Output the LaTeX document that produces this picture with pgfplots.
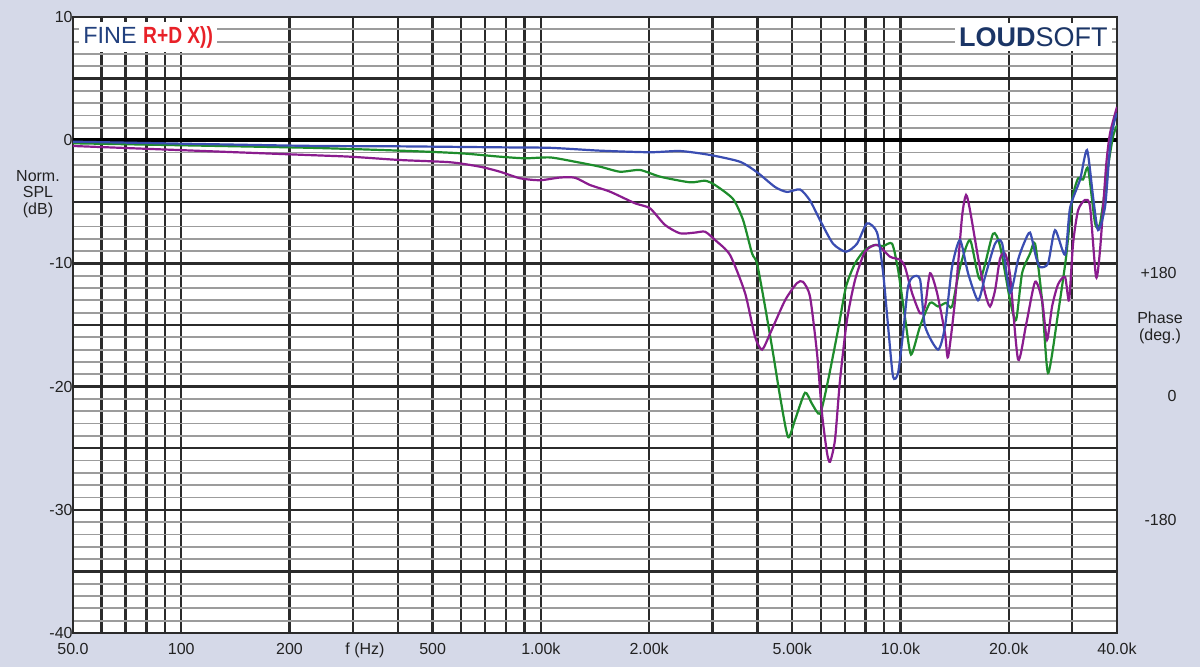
\documentclass[border=0pt]{standalone}
\usepackage{fontspec}
\setmainfont{Liberation Sans}
\usepackage{graphicx}
\usepackage{pgfplots}
\usepackage{pgfplotstable}
\pgfplotsset{compat=1.18}
\definecolor{bgc}{HTML}{D5D9E8}
\definecolor{cblue}{HTML}{3A4DB2}
\definecolor{cgreen}{HTML}{1E8C2C}
\definecolor{cpurple}{HTML}{8A1C8E}
\definecolor{navy}{HTML}{1B3566}
\definecolor{fineblue}{HTML}{22407E}
\definecolor{rdred}{HTML}{E82128}
\definecolor{gridd}{HTML}{2B2B2B}
\definecolor{gridl}{HTML}{9C9C9C}
\definecolor{txt}{HTML}{222222}

\pgfplotstableread{
f dB
50 -0.12
214 -0.45
406 -0.50
770 -0.58
1061 -0.62
1460 -0.85
2011 -0.98
2438 -0.88
2954 -1.2
3578 -1.75
3991 -2.6
4479 -3.8
4836 -4.2
5255 -4.0
5603 -4.9
5975 -6.5
6493 -8.4
7054 -9.05
7570 -8.4
8071 -6.75
8607 -7.5
8943 -10.7
9236 -15.1
9535 -19.2
9844 -18.9
10163 -15.7
10493 -11.9
10837 -11.1
11335 -11.3
11703 -15.1
12720 -17.0
13300 -15.1
13909 -10.3
14639 -8.1
15413 -10.8
16430 -13.0
17181 -11.1
18319 -8.4
19162 -8.35
20171 -12.4
21229 -9.7
22060 -8.35
22923 -7.5
23822 -9.5
24440 -10.3
25722 -10.0
26902 -7.3
28681 -9.3
29613 -5.5
31572 -3.2
33020 -0.8
34317 -4.6
35431 -7.3
37055 -5.4
38256 -0.5
39250 1.4
40000 2.2
}\blue

\pgfplotstableread{
f dB
50 -0.25
214 -0.6
406 -0.85
596 -1.06
770 -1.34
903 -1.47
1061 -1.4
1245 -1.75
1460 -2.15
1660 -2.56
1887 -2.42
2145 -2.96
2598 -3.42
2861 -3.29
3050 -3.64
3422 -4.77
3650 -6.48
3865 -9.18
3991 -10.0
4201 -13.5
4422 -17.3
4625 -20.8
4867 -24.1
5090 -22.7
5427 -20.5
5675 -21.4
5975 -22.2
6289 -19.5
6703 -15.4
7054 -11.9
7475 -10.0
7968 -8.9
8497 -8.5
8943 -8.6
9474 -8.4
9844 -10.5
10294 -14.4
10697 -17.4
11335 -15.1
12084 -13.2
12720 -13.5
13385 -13.2
13909 -13.5
14639 -10.3
15610 -8.1
16640 -11.3
18082 -7.6
18918 -8.6
20171 -13.0
20958 -14.6
21782 -10.8
22923 -9.2
23670 -8.4
24754 -13.0
25722 -18.9
27424 -14.05
28865 -9.5
29999 -4.85
31171 -3.1
32184 -3.2
33233 -2.3
34758 -6.75
35886 -6.75
37770 -2.15
38998 0.3
40000 1.2
}\green

\pgfplotstableread{
f dB
50 -0.47
214 -1.18
295 -1.34
406 -1.61
559 -1.79
677 -2.15
770 -2.56
875 -3.09
994 -3.25
1131 -3.03
1245 -3.05
1370 -3.64
1557 -4.18
1827 -5.12
2011 -5.53
2214 -6.88
2438 -7.56
2683 -7.5
2861 -7.43
3050 -8.1
3357 -9.32
3696 -12.4
3940 -15.95
4121 -17.0
4338 -15.7
4775 -13.0
5154 -11.6
5358 -11.5
5603 -12.7
5860 -17.3
6051 -22.2
6249 -25.4
6371 -26.1
6576 -24.3
6788 -19.5
7099 -14.6
7475 -11.35
7968 -9.05
8607 -8.5
9354 -9.46
9970 -9.7
10294 -10.3
10768 -12.4
11335 -14.05
11703 -13.5
12084 -10.8
12638 -12.4
13300 -15.7
13558 -17.6
14179 -13.0
14831 -6.2
15217 -4.45
15610 -5.7
16430 -9.5
17181 -12.4
17741 -13.5
18319 -12.2
18918 -9.6
19536 -9.2
20171 -11.0
21229 -17.8
22342 -15.0
23670 -11.5
24754 -13.0
25555 -16.2
26391 -13.5
27424 -11.7
28681 -11.1
29425 -13.0
30191 -8.4
31171 -5.7
32598 -4.85
33661 -5.4
34981 -11.1
35886 -8.9
37290 -2.15
38256 0.56
40000 2.7
}\purple

\begin{document}
\begin{tikzpicture}
\fill[bgc] (-36.5pt,-17pt) rectangle (563.5pt,316.5pt);
\begin{axis}[at={(0pt,0pt)}, anchor=south west,
  width=522pt, height=308pt, scale only axis,
  xmode=log, xmin=50, xmax=40000, ymin=-40, ymax=10,
  axis background/.style={fill=white},
  axis line style={gridd, line width=1.1pt},
  xtick={50,60,70,80,90,100,200,300,400,500,600,700,800,900,1000,2000,3000,4000,5000,6000,7000,8000,9000,10000,20000,30000,40000},
  xticklabels={{50.0},{},{},{},{},{100},{200},{},{},{500},{},{},{},{},{1.00k},{2.00k},{},{},{5.00k},{},{},{},{},{10.0k},{20.0k},{},{40.0k}},
  minor xtick={},
  ytick={-40,-35,...,10},
  yticklabels={{-40},{},{-30},{},{-20},{},{-10},{},{0},{},{10}},
  minor y tick num=4,
  major tick length=0pt, minor tick length=0pt,
  grid=both,
  major grid style={gridd, line width=1.2pt},
  minor grid style={gridl, line width=0.9pt},
  tick label style={font=\fontsize{8}{9.6}\selectfont, text=txt},
  yticklabel style={anchor=east, inner sep=0pt},
  xticklabel style={anchor=north, inner sep=0pt, yshift=-5pt},
  /pgf/number format/assume math mode=true,
]
\draw[black, line width=2pt] (axis cs:50,0) -- (axis cs:40000,0);
\addplot[cgreen, line width=1.1pt, smooth, tension=0.4] table[x=f, y=dB] {\green};
\addplot[cpurple, line width=1.1pt, smooth, tension=0.4] table[x=f, y=dB] {\purple};
\addplot[cblue, line width=1.1pt, smooth, tension=0.4] table[x=f, y=dB] {\blue};
\end{axis}
\node[fill=white, inner sep=2pt, anchor=west] at (3pt,298pt)
  {\fontsize{11.7}{12}\selectfont\color{fineblue}FINE \textcolor{rdred}{\bfseries\scalebox{0.82}[1]{R+D X))}}};
\node[fill=white, inner sep=2pt, anchor=east] at (519.5pt,298pt)
  {\fontsize{13.5}{14}\selectfont\color{navy}\textbf{LOUD}SOFT};
\node[align=center, text=txt, font=\fontsize{8}{8.3}\selectfont] at (-17.5pt,219.5pt) {Norm.\\SPL\\(dB)};
\node[anchor=north, inner sep=0pt, text=txt, font=\fontsize{8}{9.6}\selectfont] at (146pt,-5pt) {f (Hz)};
\node[anchor=east, inner sep=0pt, text=txt, font=\fontsize{8}{9.6}\selectfont] at (552pt,180pt) {+180};
\node[align=center, text=txt, font=\fontsize{8}{8.8}\selectfont] at (543.5pt,152.5pt) {Phase\\(deg.)};
\node[anchor=east, inner sep=0pt, text=txt, font=\fontsize{8}{9.6}\selectfont] at (552pt,118.5pt) {0};
\node[anchor=east, inner sep=0pt, text=txt, font=\fontsize{8}{9.6}\selectfont] at (552pt,56.5pt) {-180};
\end{tikzpicture}
\end{document}
